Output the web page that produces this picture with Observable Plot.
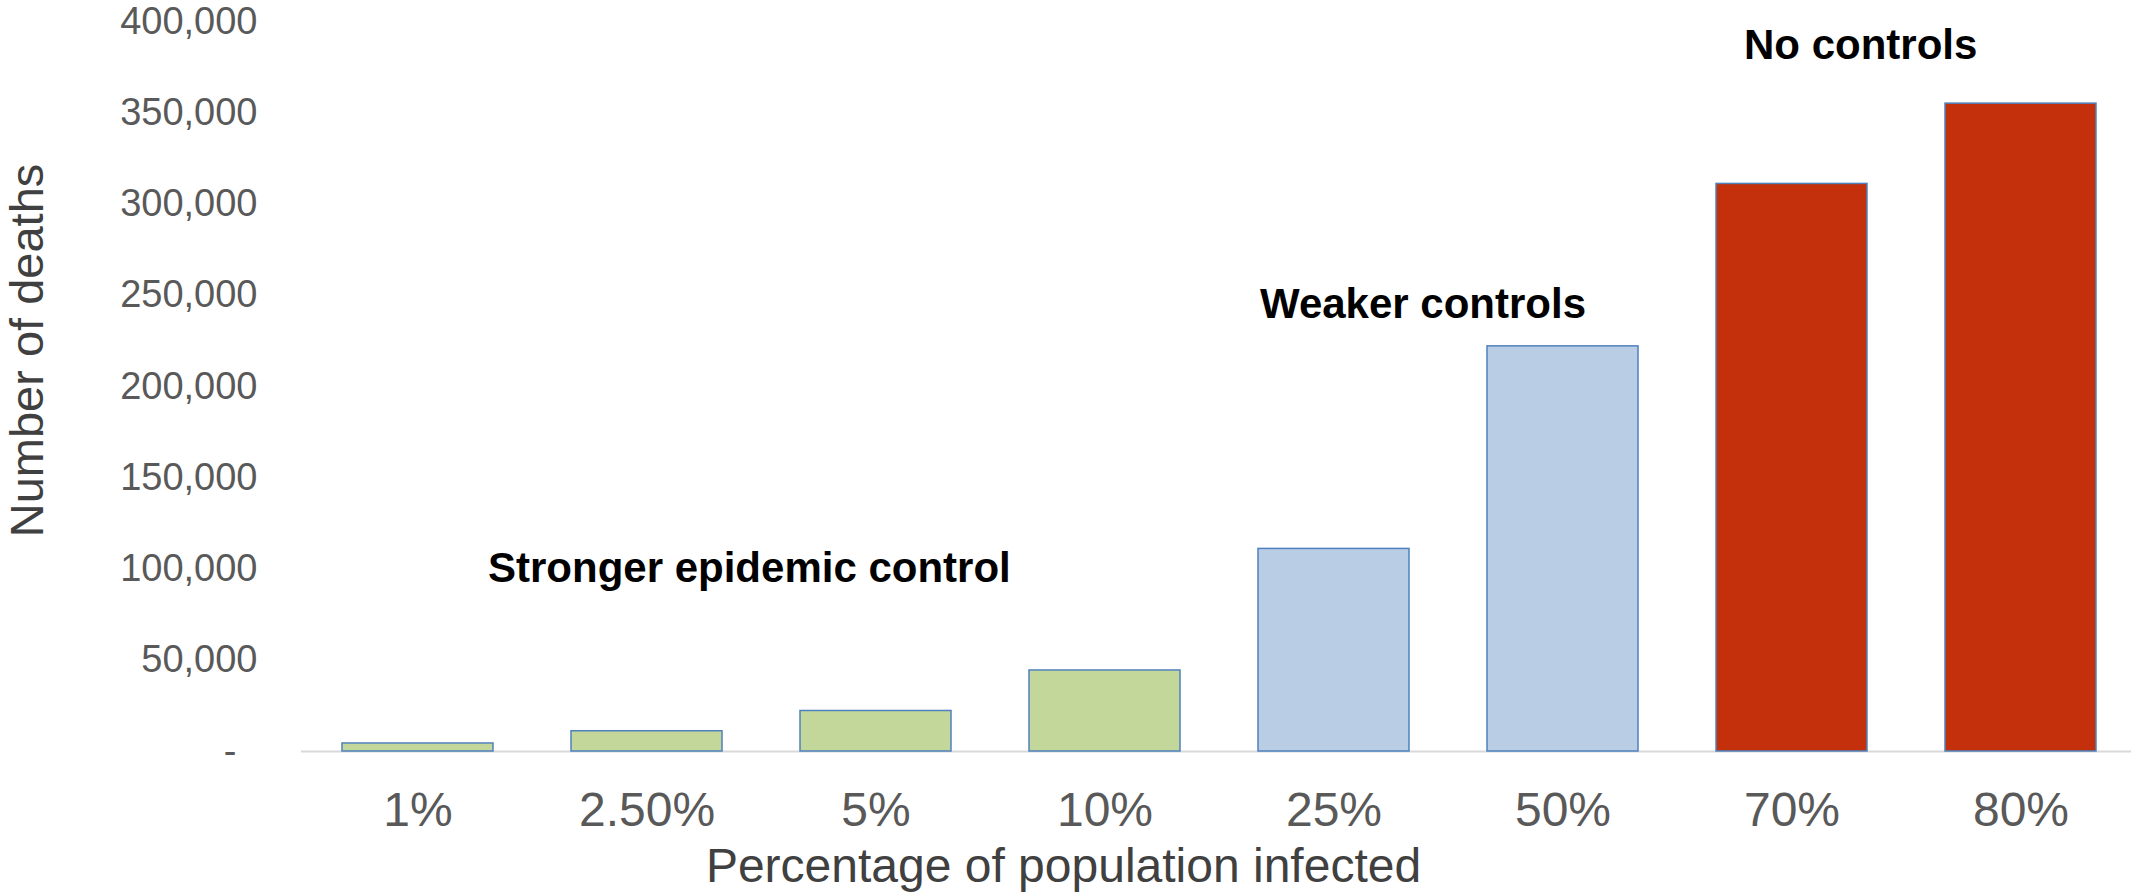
<!DOCTYPE html>
<html>
<head>
<meta charset="utf-8">
<script src="https://cdn.jsdelivr.net/npm/d3@7"></script>
<script src="https://cdn.jsdelivr.net/npm/@observablehq/plot@0.6"></script>
<style>
  html, body { margin: 0; padding: 0; background: #ffffff; }
  #chart svg { display: block; }
</style>
</head>
<body>
<div id="chart"></div>
<script>
// ---- data ----
const categories = ["1%", "2.50%", "5%", "10%", "25%", "50%", "70%", "80%"];
const deaths = [4400, 11100, 22200, 44400, 111000, 222000, 311000, 355000];
const groups = ["Stronger", "Stronger", "Stronger", "Stronger", "Weaker", "Weaker", "None", "None"];
const yTicks = [0, 50000, 100000, 150000, 200000, 250000, 300000, 350000, 400000];
const annotations = ["Stronger epidemic control", "Weaker controls", "No controls"];
const annotationAt = ["1%", "25%", "70%"];
const annotationLevel = [100000, 245000, 387000];
const xTitle = "Percentage of population infected";
const yTitle = "Number of deaths";

const rows = categories.map((c, i) => ({category: c, deaths: deaths[i], group: groups[i]}));
const notes = annotations.map((t, i) => ({text: t, category: annotationAt[i], level: annotationLevel[i]}));
const noteShift = [70, -74, -48];

const fontFamily = "'Liberation Sans', Arial, Helvetica, sans-serif";

const chart = Plot.plot({
  width: 2131,
  height: 893,
  marginLeft: 301,
  marginRight: 0,
  marginTop: 21,
  marginBottom: 142,
  style: {fontFamily, background: "#ffffff", overflow: "visible"},
  x: {domain: categories, range: [301, 2137], paddingInner: 0.34, paddingOuter: 0.17, align: 0.5},
  y: {domain: [0, 400000]},
  color: {domain: ["Stronger", "Weaker", "None"], range: ["#C4D79B", "#B9CDE5", "#C3300B"]},
  marks: [
    Plot.ruleY([0], {stroke: "#D9D9D9", strokeWidth: 2}),
    Plot.barY(rows, {x: "category", y: "deaths", fill: "group", stroke: "#4F81BD", strokeWidth: 1.5}),
    Plot.axisY({
      ticks: yTicks,
      tickFormat: d => d === 0 ? "-\u00a0\u00a0" : d3.format(",")(d),
      tickSize: 0,
      tickPadding: 44,
      fontSize: 38,
      color: "#595959",
      label: null
    }),
    Plot.axisX({
      tickSize: 0,
      tickPadding: 40,
      fontSize: 48,
      color: "#595959",
      label: null
    }),
    ...notes.map((n, i) => Plot.text([n], {
      x: "category",
      y: "level",
      text: "text",
      textAnchor: "start",
      dx: noteShift[i],
      fontSize: 42,
      fontWeight: "bold",
      fill: "#000000"
    })),
    Plot.text([xTitle], {
      frameAnchor: "bottom",
      textAnchor: "middle",
      dx: -153,
      dy: 130,
      fontSize: 48,
      fill: "#404040"
    }),
    Plot.text([yTitle], {
      frameAnchor: "left",
      textAnchor: "middle",
      rotate: -90,
      dx: -274,
      dy: -36,
      fontSize: 47,
      fill: "#404040"
    })
  ]
});

document.getElementById("chart").appendChild(chart);
</script>
</body>
</html>
